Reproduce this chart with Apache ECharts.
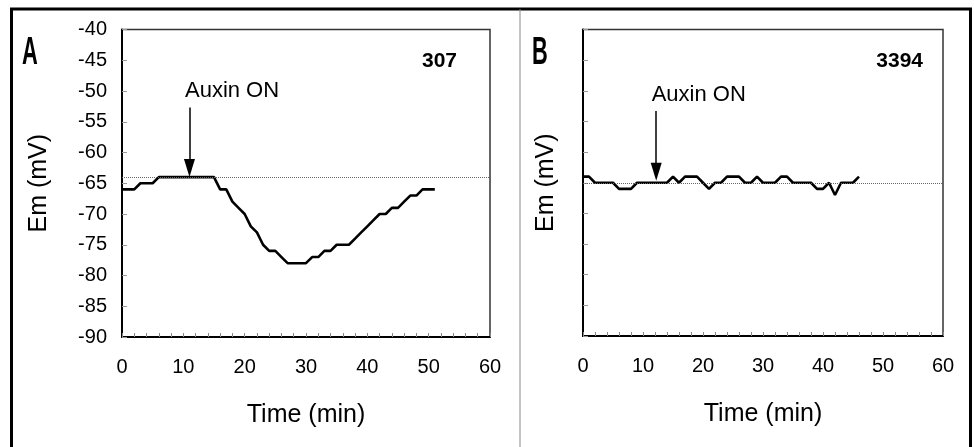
<!DOCTYPE html>
<html><head><meta charset="utf-8">
<script src="https://cdn.jsdelivr.net/npm/echarts/dist/echarts.min.js"></script>
<style>html,body{margin:0;padding:0;background:#fff}#c{width:974px;height:447px}</style>
</head><body><div id="c"></div>
<script>
const timeA = [0,1,2,3,4,5,6,7,8,9,10,11,12,13,14,15,16,17,18,19,20,21,22,23,24,25,26,27,28,29,30,31,32,33,34,35,36,37,38,39,40,41,42,43,44,45,46,47,48,49,50,51];
const emA = [-66,-66,-66,-65,-65,-65,-64,-64,-64,-64,-64,-64,-64,-64,-64,-64,-66,-66,-68,-69,-70,-72,-73,-75,-76,-76,-77,-78,-78,-78,-78,-77,-77,-76,-76,-75,-75,-75,-74,-73,-72,-71,-70,-70,-69,-69,-68,-67,-67,-66,-66,-66];
const timeB = [0,1,2,3,4,5,6,7,8,9,10,11,12,13,14,15,16,17,18,19,20,21,22,23,24,25,26,27,28,29,30,31,32,33,34,35,36,37,38,39,40,41,42,43,44,45,46];
const emB = [-64,-64,-65,-65,-65,-65,-66,-66,-66,-65,-65,-65,-65,-65,-65,-64,-65,-64,-64,-64,-65,-66,-65,-65,-64,-64,-64,-65,-65,-64,-65,-65,-65,-64,-64,-65,-65,-65,-65,-66,-66,-65,-67,-65,-65,-65,-64];
const xRange = [0, 60];
const yRange = [-90, -40];
const baselineA = -64;
const baselineB = -65;
// arrow: [time, top value, tip value]
const arrowA = [11, -52.7, -62.5];
const arrowB = [12.2, -53.3, -63.2];
const panelLetters = ['A', 'B'];
const cellIds = ['307', '3394'];
const annotation = 'Auxin ON';

const FONT = 'Liberation Sans, Arial, sans-serif';
function pairs(xs, ys) { return xs.map((x, i) => [x, ys[i]]); }

function xAxisCfg(gi) {
  return {
    type: 'value', gridIndex: gi, min: xRange[0], max: xRange[1], interval: 2,
    name: 'Time (min)', nameLocation: 'middle', nameGap: 66,
    nameTextStyle: { fontFamily: FONT, fontSize: 25, color: '#000' },
    axisLine: { show: true, onZero: false, lineStyle: { color: '#000', width: 2 } },
    axisTick: { show: true, inside: true, length: 4, lineStyle: { color: '#888', width: 1 } },
    axisLabel: { fontFamily: FONT, fontSize: 20, color: '#000', margin: 20,
      formatter: v => (v % 10 === 0 ? String(v) : '') },
    splitLine: { show: false }
  };
}
function yAxisCfg(gi, showLabels, gap) {
  return {
    type: 'value', gridIndex: gi, min: yRange[0], max: yRange[1], interval: 5,
    name: 'Em (mV)', nameLocation: 'middle', nameGap: gap,
    nameTextStyle: { fontFamily: FONT, fontSize: 25, color: '#000' },
    axisLine: { show: true, onZero: false, lineStyle: { color: '#000', width: 2 } },
    axisTick: { show: true, inside: true, length: 5, lineStyle: { color: '#999', width: 1 } },
    axisLabel: { show: showLabels, fontFamily: FONT, fontSize: 20, color: '#000', margin: 15 },
    splitLine: { show: false }
  };
}
function seriesCfg(gi, xs, ys, base, arrow) {
  return {
    type: 'line', xAxisIndex: gi, yAxisIndex: gi, data: pairs(xs, ys),
    showSymbol: false, symbol: 'none', silent: true, animation: false,
    lineStyle: { color: '#000', width: 2.6 },
    markLine: {
      silent: true, animation: false, symbol: ['none', 'none'],
      label: { show: false },
      data: [
        { yAxis: base, lineStyle: { type: 'dotted', color: '#666', width: 1 } },
        [
          { coord: [arrow[0], arrow[1]], symbol: 'none', lineStyle: { type: 'solid', color: '#000', width: 1.5 } },
          { coord: [arrow[0], arrow[2]], symbol: 'triangle', symbolSize: [11, 18] }
        ]
      ]
    },
    markPoint: {
      silent: true, animation: false,
      data: [{
        coord: [arrow[0], arrow[1]], symbol: 'circle', symbolSize: 1,
        itemStyle: { color: 'rgba(0,0,0,0)' },
        label: { show: true, formatter: annotation, position: [-4, -5], align: 'left', verticalAlign: 'bottom',
          fontFamily: FONT, fontSize: 22, color: '#000' }
      }]
    }
  };
}

const chart = echarts.init(document.getElementById('c'), null, { renderer: 'canvas' });
chart.setOption({
  backgroundColor: '#fff',
  animation: false,
  grid: [
    { left: 122, top: 29.5, right: 484, bottom: 110, show: true, borderColor: '#333', borderWidth: 1.5, containLabel: false, outerBoundsMode: 'none' },
    { left: 583, top: 29.5, right: 31, bottom: 111, show: true, borderColor: '#333', borderWidth: 1.5, containLabel: false, outerBoundsMode: 'none' }
  ],
  xAxis: [xAxisCfg(0), xAxisCfg(1)],
  yAxis: [yAxisCfg(0, true, 70), yAxisCfg(1, false, 24)],
  series: [
    seriesCfg(0, timeA, emA, baselineA, arrowA),
    seriesCfg(1, timeB, emB, baselineB, arrowB)
  ],
  graphic: [
    { type: 'rect', silent: true, shape: { x: 11.5, y: 9, width: 959, height: 470 }, style: { fill: 'none', stroke: '#000', lineWidth: 3 } },
    { type: 'line', silent: true, shape: { x1: 520, y1: 9, x2: 520, y2: 447 }, style: { stroke: '#888', lineWidth: 1 } },
    { type: 'text', silent: true, x: 22, y: 53, scaleX: 0.56, style: { text: panelLetters[0], font: 'bold 39px ' + FONT, fill: '#000', textAlign: 'left', textVerticalAlign: 'middle' } },
    { type: 'text', silent: true, x: 532, y: 53, scaleX: 0.56, style: { text: panelLetters[1], font: 'bold 39px ' + FONT, fill: '#000', textAlign: 'left', textVerticalAlign: 'middle' } },
    { type: 'text', silent: true, x: 457, y: 61, style: { text: cellIds[0], font: 'bold 21px ' + FONT, fill: '#000', textAlign: 'right', textVerticalAlign: 'middle' } },
    { type: 'text', silent: true, x: 923, y: 61, style: { text: cellIds[1], font: 'bold 21px ' + FONT, fill: '#000', textAlign: 'right', textVerticalAlign: 'middle' } }
  ]
});
</script></body></html>
